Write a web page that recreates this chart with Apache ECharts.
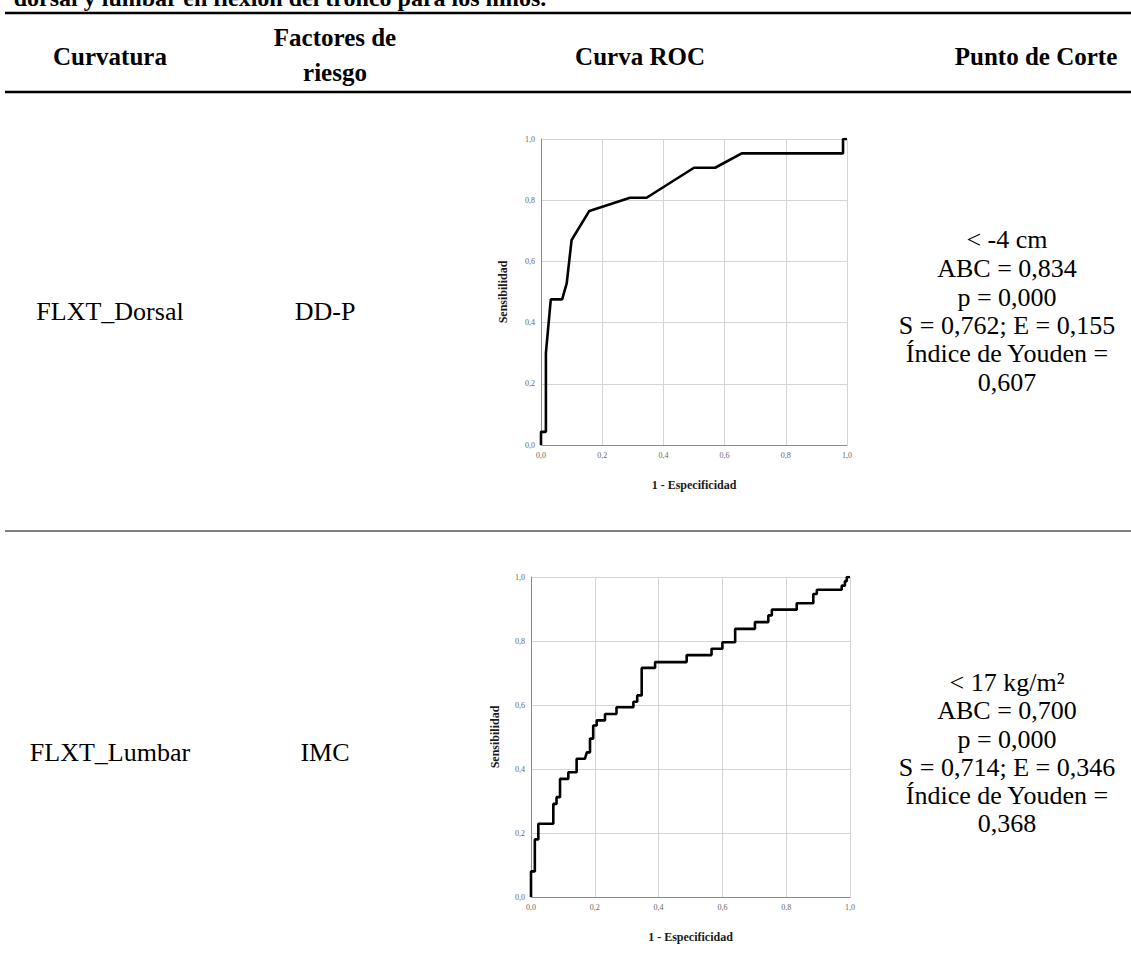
<!DOCTYPE html>
<html>
<head>
<meta charset="utf-8">
<script src="https://cdn.jsdelivr.net/npm/echarts@6/dist/echarts.min.js"></script>
<style>
html,body{margin:0;padding:0;background:#fff;}
#c{width:1131px;height:976px;}
</style>
</head>
<body>
<div id="c"></div>
<script>
// ---- data ----
const tickLabels = ['0,0','0,2','0,4','0,6','0,8','1,0'];
const roc1X = [0,0,0.016,0.016,0.032,0.069,0.084,0.1,0.158,0.291,0.345,0.5,0.569,0.656,0.987,0.987,1];
const roc1Y = [0,0.043,0.043,0.30,0.476,0.476,0.528,0.67,0.765,0.808,0.808,0.906,0.906,0.953,0.953,1,1];
const roc2X = [0,0,0.012,0.012,0.023,0.023,0.07,0.07,0.08,0.08,0.091,0.091,0.117,0.117,0.143,0.143,0.169,0.175,0.185,0.185,0.195,0.195,0.206,0.206,0.232,0.232,0.268,0.268,0.321,0.321,0.333,0.333,0.347,0.347,0.389,0.389,0.488,0.488,0.566,0.566,0.6,0.6,0.64,0.64,0.702,0.702,0.744,0.744,0.755,0.755,0.833,0.833,0.885,0.885,0.896,0.896,0.974,0.974,0.984,0.984,0.99,0.99,1];
const roc2Y = [0,0.08,0.08,0.18,0.18,0.229,0.229,0.291,0.291,0.312,0.312,0.369,0.369,0.39,0.39,0.432,0.432,0.452,0.452,0.495,0.495,0.536,0.536,0.552,0.552,0.572,0.572,0.593,0.593,0.61,0.61,0.63,0.63,0.716,0.716,0.734,0.734,0.756,0.756,0.776,0.776,0.796,0.796,0.838,0.838,0.859,0.859,0.88,0.88,0.898,0.898,0.918,0.918,0.947,0.947,0.96,0.96,0.973,0.973,0.987,0.987,1,1];

const caption = 'dorsal y lumbar en flexión del tronco para los niños.';
const headers = ['Curvatura','Factores de','riesgo','Curva ROC','Punto de Corte'];
const curvaturas = ['FLXT_Dorsal','FLXT_Lumbar'];
const factores = ['DD-P','IMC'];
const corte1 = ['< -4 cm','ABC = 0,834','p = 0,000','S = 0,762; E = 0,155','Índice de Youden =','0,607'];
const corte2 = ['< 17 kg/m²','ABC = 0,700','p = 0,000','S = 0,714; E = 0,346','Índice de Youden =','0,368'];
const yName = 'Sensibilidad';
const xName = '1 - Especificidad';

// ---- build ----
const pairs = (xs, ys) => xs.map((x, i) => [x, ys[i]]);
const fmt = v => tickLabels[Math.round(v / 0.2)];
const SERIF = '"Liberation Serif", "DejaVu Serif", serif';

function mkAxis(isX, gi, nameGap) {
  return {
    type: 'value', gridIndex: gi, min: 0, max: 1, interval: 0.2,
    name: isX ? xName : yName, nameLocation: 'middle', nameGap: nameGap,
    nameRotate: isX ? 0 : 90,
    nameTextStyle: {fontFamily: SERIF, fontWeight: 'bold', fontSize: 12, color: '#1a1a1a'},
    axisLine: {show: true, lineStyle: {color: '#8a8a8a', width: 1}},
    axisTick: {show: false},
    axisLabel: {fontSize: 8, color: '#666', fontFamily: SERIF, margin: 6, formatter: fmt},
    splitLine: {show: true, lineStyle: {color: '#d4d4d4', width: 1}}
  };
}

const g = [];
function txt(x, y, s, font) {
  g.push({type: 'text', x: x, y: y, z: 10,
    style: {text: s, font: font, fill: '#000', align: 'center', verticalAlign: 'middle'}});
}
function hline(y, w, x1, x2) {
  g.push({type: 'line', z: 10, shape: {x1: x1, y1: y, x2: x2, y2: y},
    style: {stroke: '#000', lineWidth: w}});
}
const HB = 'bold 25px ' + SERIF;
const RG = '26px ' + SERIF;
txt(280, -2, caption, 'bold 24px ' + SERIF);
hline(13, 2.5, 5, 1131);
hline(92, 2.5, 5, 1131);
hline(531, 1.2, 5, 1131);
txt(110, 56, headers[0], HB);
txt(335, 37, headers[1], HB);
txt(335, 72, headers[2], HB);
txt(640, 56, headers[3], HB);
txt(1036, 56, headers[4], HB);
txt(110, 311, curvaturas[0], RG);
txt(325, 311, factores[0], RG);
txt(110, 752, curvaturas[1], RG);
txt(325, 752, factores[1], RG);
const ys1 = [239, 268, 297, 325, 353, 382];
const ys2 = [682, 710, 739, 767, 795, 823];
corte1.forEach((s, i) => txt(1007, ys1[i], s, RG));
corte2.forEach((s, i) => txt(1007, ys2[i], s, RG));

const chart = echarts.init(document.getElementById('c'), null, {renderer: 'svg'});
chart.setOption({
  animation: false,
  backgroundColor: '#fff',
  grid: [
    {left: 541, top: 139, width: 306, height: 306},
    {left: 531, top: 577, width: 319, height: 320}
  ],
  xAxis: [mkAxis(true, 0, 34), mkAxis(true, 1, 34)],
  yAxis: [mkAxis(false, 0, 32), mkAxis(false, 1, 30)],
  series: [
    {type: 'line', xAxisIndex: 0, yAxisIndex: 0, data: pairs(roc1X, roc1Y), showSymbol: false,
     lineStyle: {color: '#000', width: 2.6}, z: 5},
    {type: 'line', xAxisIndex: 1, yAxisIndex: 1, data: pairs(roc2X, roc2Y), showSymbol: false,
     lineStyle: {color: '#000', width: 2.6}, z: 5}
  ],
  graphic: g
});
</script>
</body>
</html>
